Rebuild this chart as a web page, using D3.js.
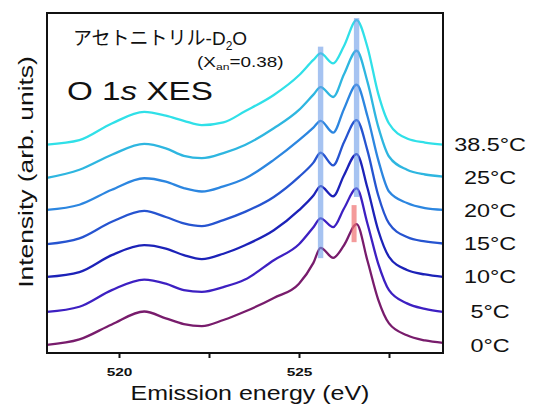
<!DOCTYPE html>
<html>
<head>
<meta charset="utf-8">
<script src="https://cdn.jsdelivr.net/npm/d3@7"></script>
<style>
  body { margin: 0; background: #fff; }
  text { font-family: "Liberation Sans", Arial, "Noto Sans CJK JP", sans-serif; fill: #111; }
</style>
</head>
<body>
<svg id="chart" width="535" height="405"></svg>
<script>
// O 1s XES spectra, acetonitrile-D2O, stacked by temperature

var energy = [518.0, 518.9, 519.8, 520.7, 521.3, 521.8, 522.3, 522.9, 523.5, 524.3, 525.0,
              525.4, 525.6, 525.95, 526.25, 526.6, 526.9, 527.2, 527.5, 528.0, 528.5, 529.0];

var temps = ['0°C', '5°C', '10°C', '15°C', '20°C', '25°C', '38.5°C'];
var offsets = [0.22, 1.2, 2.23, 3.2, 4.18, 5.15, 6.13];

var s0   = [0.02, 0.18, 0.62, 1.0, 0.8, 0.63, 0.57, 0.75, 1.0, 1.4, 1.82, 2.43, 2.87, 2.58, 2.95, 3.57, 2.5, 1.35, 0.65, 0.3, 0.15, 0.08];
var s5   = [0.01, 0.16, 0.65, 0.96, 0.84, 0.65, 0.6, 0.74, 0.96, 1.53, 2.0, 2.5, 2.76, 2.5, 3.05, 3.64, 2.61, 1.43, 0.65, 0.26, 0.1, 0.01];
var s10  = [0.01, 0.15, 0.65, 0.94, 0.84, 0.65, 0.53, 0.69, 0.94, 1.38, 1.97, 2.4, 2.68, 2.38, 3.0, 3.62, 2.63, 1.38, 0.6, 0.21, 0.08, 0.01];
var s15  = [0.0, 0.17, 0.66, 0.98, 0.8, 0.61, 0.53, 0.71, 0.95, 1.39, 1.98, 2.4, 2.69, 2.32, 3.0, 3.65, 2.76, 1.44, 0.61, 0.21, 0.08, 0.02];
var s20  = [0.03, 0.18, 0.62, 0.96, 0.86, 0.67, 0.57, 0.72, 0.95, 1.5, 2.08, 2.45, 2.65, 2.3, 3.0, 3.71, 2.79, 1.5, 0.57, 0.23, 0.08, 0.03];
var s25  = [0.0, 0.24, 0.68, 1.0, 0.87, 0.65, 0.58, 0.73, 0.97, 1.46, 2.0, 2.45, 2.67, 2.38, 3.05, 3.74, 2.83, 1.51, 0.63, 0.24, 0.1, 0.04];
var s385 = [0.0, 0.13, 0.62, 0.96, 0.85, 0.7, 0.57, 0.65, 0.98, 1.46, 2.04, 2.49, 2.68, 2.39, 2.9, 3.66, 2.87, 1.5, 0.62, 0.18, 0.06, 0.0];

var series = [s0, s5, s10, s15, s20, s25, s385];

// marker bars: energy and intensity span
var blueBarE = [525.6, 526.6];
var blueBarSpan = [[2.79, 9.01], [4.59, 9.85]];
var redBarE = [526.53];
var redBarSpan = [[3.26, 4.35]];

var xTicks = [520, 522.5, 525, 527.5];
var xTickLabels = ['520', '', '525', ''];

var colors = ['#781c6c', '#3d20c2', '#1c22b8', '#2654d0', '#2c86e0', '#2eb6e0', '#30e0e8'];

var mLeft = 47, mTop = 13, w = 396, h = 340;
var svg = d3.select('#chart');

var x = d3.scaleLinear().domain([518, 529]).range([mLeft, mLeft + w]);
var y = d3.scaleLinear().domain([0, 10]).range([mTop + h, mTop]);

var line = d3.line()
  .x(function(d) { return x(d[0]); })
  .y(function(d) { return y(d[1]); })
  .curve(d3.curveMonotoneX);

// curves
svg.append('g')
  .selectAll('path')
  .data(series)
  .join('path')
  .attr('fill', 'none')
  .attr('stroke', function(d, i) { return colors[i]; })
  .attr('stroke-width', 2.3)
  .attr('d', function(d, i) {
    return line(energy.map(function(e, k) { return [e, d[k] + offsets[i]]; }));
  });

// marker bars
svg.append('g')
  .selectAll('rect')
  .data(blueBarE)
  .join('rect')
  .attr('x', function(d) { return x(d) - 2.7; })
  .attr('width', 5.4)
  .attr('y', function(d, i) { return y(blueBarSpan[i][1]); })
  .attr('height', function(d, i) { return y(blueBarSpan[i][0]) - y(blueBarSpan[i][1]); })
  .attr('fill', '#6a9be8')
  .attr('opacity', 0.6);

svg.append('g')
  .selectAll('rect')
  .data(redBarE)
  .join('rect')
  .attr('x', function(d) { return x(d) - 2.5; })
  .attr('width', 5)
  .attr('y', function(d, i) { return y(redBarSpan[i][1]); })
  .attr('height', function(d, i) { return y(redBarSpan[i][0]) - y(redBarSpan[i][1]); })
  .attr('fill', '#f07070')
  .attr('opacity', 0.7);

// frame
svg.append('rect')
  .attr('x', mLeft).attr('y', mTop)
  .attr('width', w).attr('height', h)
  .attr('fill', 'none')
  .attr('stroke', '#111')
  .attr('stroke-width', 2);

// x axis
var xAxis = svg.append('g')
  .attr('transform', 'translate(0,' + (mTop + h) + ')')
  .call(d3.axisBottom(x)
    .tickValues(xTicks)
    .tickSize(5)
    .tickFormat(function(d, i) { return xTickLabels[i]; }));
xAxis.select('.domain').remove();
xAxis.selectAll('line').attr('stroke', '#111').attr('stroke-width', 2);
xAxis.selectAll('text')
  .attr('y', 0).attr('dy', 0)
  .attr('transform', 'translate(0,23) scale(1.4,1)')
  .style('font-size', '11px')
  .style('font-weight', 'bold')
  .style('font-family', '"Liberation Sans", Arial, sans-serif')
  .attr('fill', '#222');

// axis titles
svg.append('text')
  .attr('transform', 'translate(250,400) scale(1.25,1)')
  .attr('text-anchor', 'middle')
  .style('font-size', '20px')
  .text('Emission energy (eV)');

svg.append('text')
  .attr('transform', 'translate(33,172) rotate(-90) scale(1.32,1)')
  .attr('text-anchor', 'middle')
  .style('font-size', '20px')
  .text('Intensity (arb. units)');

// temperature labels
svg.append('g')
  .selectAll('text')
  .data(temps)
  .join('text')
  .attr('transform', function(d, i) {
    return 'translate(490,' + (y(offsets[i]) + 6) + ') scale(1.3,1)';
  })
  .attr('text-anchor', 'middle')
  .style('font-size', '18px')
  .text(function(d) { return d; });

// titles inside plot
var t1 = svg.append('text')
  .attr('x', 73).attr('y', 45)
  .style('font-size', '19px');
t1.append('tspan').text('アセトニトリル-D');
t1.append('tspan').attr('dy', 5).style('font-size', '12px').text('2');
t1.append('tspan').attr('dy', -5).text('O');

var t2 = svg.append('text')
  .attr('transform', 'translate(197,67) scale(1.35,1)')
  .style('font-size', '14px');
t2.append('tspan').text('(X');
t2.append('tspan').attr('dy', 3).style('font-size', '9px').text('an');
t2.append('tspan').attr('dy', -3).text('=0.38)');

var t3 = svg.append('text')
  .attr('transform', 'translate(67,100) scale(1.33,1)')
  .style('font-size', '25px');
t3.append('tspan').text('O 1');
t3.append('tspan').style('font-style', 'italic').text('s');
t3.append('tspan').text(' XES');
</script>
</body>
</html>
